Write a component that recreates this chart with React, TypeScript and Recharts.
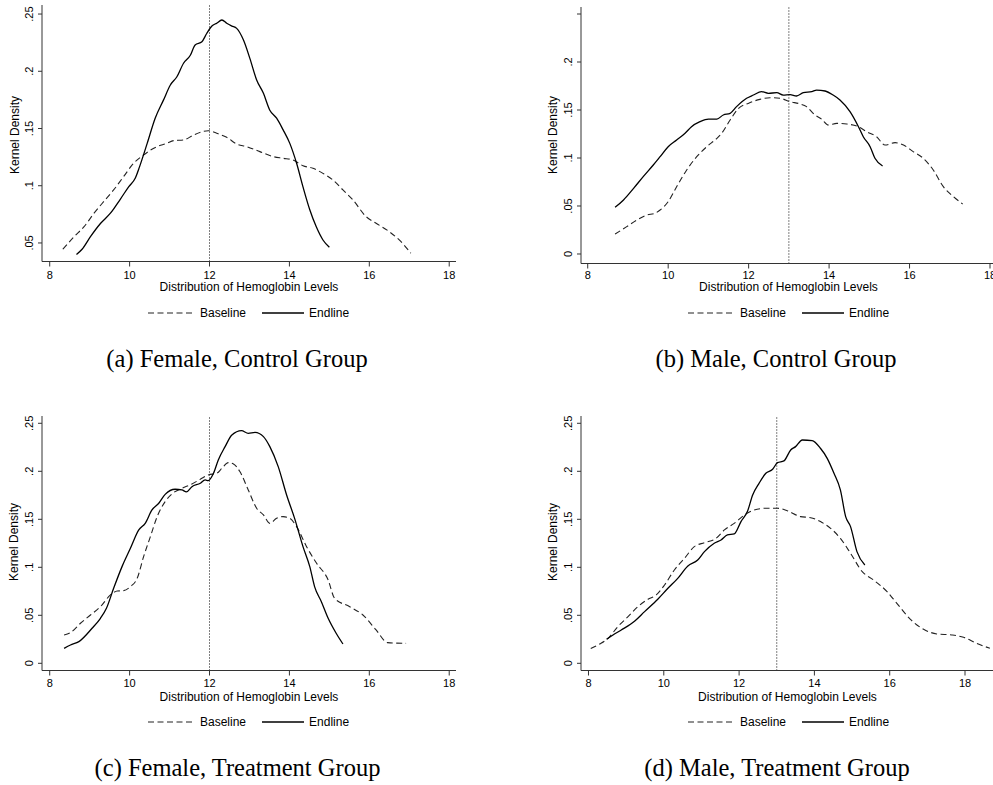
import React from 'react';
import { LineChart, Line, XAxis, YAxis, ReferenceLine, Legend } from 'recharts';

// ---------- data ----------
const xTicks = [8, 10, 12, 14, 16, 18];
const xTickLabels = ['8', '10', '12', '14', '16', '18'];
const yTicksTopLeft = [0.05, 0.1, 0.15, 0.2, 0.25];
const yTickLabelsTopLeft = ['.05', '.1', '.15', '.2', '.25'];
const yTicksFull = [0, 0.05, 0.1, 0.15, 0.2, 0.25];
const yTickLabelsFull = ['0', '.05', '.1', '.15', '.2', '.25'];
const yTickLabelsMaleControl = ['0', '.05', '.1', '.15', '.2', ''];
const seriesNames = ['Baseline', 'Endline'];
const captions = ['(a) Female, Control Group', '(b) Male, Control Group', '(c) Female, Treatment Group', '(d) Male, Treatment Group'];
const xTitle = 'Distribution of Hemoglobin Levels';
const yTitle = 'Kernel Density';
const cutoffFemale = 12;
const cutoffMale = 13;

// (a) Female, Control
const fcBaseX = [8.33, 8.61, 8.86, 9.11, 9.35, 9.6, 9.85, 10.1, 10.35, 10.68, 10.93, 11.1, 11.35, 11.6, 11.81, 11.97, 12.18, 12.43, 12.68, 12.93, 13.26, 13.6, 13.84, 14.09, 14.34, 14.59, 14.84, 15.09, 15.34, 15.59, 15.92, 16.17, 16.5, 16.75, 17.04];
const fcBaseY = [0.0445, 0.0555, 0.0643, 0.076, 0.0861, 0.0963, 0.108, 0.1196, 0.1269, 0.1341, 0.137, 0.1394, 0.14, 0.1443, 0.1472, 0.1481, 0.1458, 0.1423, 0.1365, 0.1341, 0.1298, 0.1254, 0.124, 0.1225, 0.1175, 0.1152, 0.1108, 0.105, 0.0963, 0.0876, 0.073, 0.0672, 0.0599, 0.0526, 0.041];
const fcEndX = [8.67, 8.81, 9.02, 9.27, 9.52, 9.77, 9.98, 10.14, 10.25, 10.44, 10.64, 10.85, 11.02, 11.18, 11.35, 11.52, 11.64, 11.81, 11.93, 12.06, 12.18, 12.31, 12.43, 12.56, 12.68, 12.85, 13.01, 13.18, 13.35, 13.51, 13.68, 13.84, 14.01, 14.18, 14.34, 14.51, 14.67, 14.84, 15.0];
const fcEndY = [0.04, 0.0445, 0.0555, 0.067, 0.076, 0.0884, 0.0992, 0.1065, 0.1167, 0.137, 0.159, 0.175, 0.188, 0.195, 0.207, 0.214, 0.223, 0.2258, 0.233, 0.2395, 0.242, 0.2448, 0.242, 0.2395, 0.2375, 0.2273, 0.2113, 0.1924, 0.1807, 0.166, 0.159, 0.149, 0.137, 0.1196, 0.099, 0.079, 0.0643, 0.0526, 0.0462];

// (b) Male, Control
const mcBaseX = [8.68, 8.97, 9.22, 9.47, 9.67, 9.8, 10.0, 10.21, 10.46, 10.71, 10.96, 11.21, 11.33, 11.54, 11.75, 11.99, 12.28, 12.53, 12.78, 13.03, 13.28, 13.44, 13.65, 13.82, 13.98, 14.19, 14.44, 14.73, 14.93, 15.18, 15.39, 15.64, 15.85, 16.09, 16.34, 16.59, 16.84, 17.09, 17.32];
const mcBaseY = [0.0208, 0.0285, 0.0354, 0.0406, 0.0424, 0.0458, 0.0545, 0.0701, 0.0875, 0.1014, 0.1118, 0.1205, 0.1257, 0.1396, 0.1517, 0.1569, 0.1611, 0.1628, 0.1622, 0.1587, 0.1563, 0.1535, 0.1448, 0.1403, 0.1344, 0.1361, 0.1354, 0.1326, 0.1274, 0.1222, 0.1135, 0.116, 0.1135, 0.1066, 0.0997, 0.0875, 0.0701, 0.0597, 0.0521];
const mcEndX = [8.68, 8.89, 9.14, 9.38, 9.63, 9.8, 10.0, 10.21, 10.42, 10.58, 10.79, 11.0, 11.21, 11.37, 11.54, 11.7, 11.95, 12.12, 12.32, 12.49, 12.7, 12.86, 13.03, 13.19, 13.36, 13.57, 13.69, 13.9, 14.1, 14.27, 14.52, 14.73, 14.85, 15.02, 15.14, 15.33];
const mcEndY = [0.0486, 0.0563, 0.0684, 0.0806, 0.0927, 0.1014, 0.1118, 0.1188, 0.1257, 0.1326, 0.1378, 0.1406, 0.1406, 0.1448, 0.1465, 0.1535, 0.1622, 0.1656, 0.1691, 0.1674, 0.168, 0.1656, 0.166, 0.1646, 0.168, 0.1691, 0.1708, 0.1698, 0.1656, 0.1604, 0.1483, 0.1326, 0.1222, 0.1118, 0.0997, 0.0917];

// (c) Female, Treatment
const ftBaseX = [8.36, 8.52, 8.77, 9.02, 9.27, 9.52, 9.69, 9.85, 10.02, 10.19, 10.35, 10.52, 10.69, 10.89, 11.1, 11.31, 11.56, 11.77, 11.97, 12.18, 12.31, 12.47, 12.6, 12.76, 12.97, 13.18, 13.35, 13.51, 13.68, 13.84, 14.01, 14.18, 14.43, 14.68, 14.97, 15.13, 15.51, 15.84, 16.17, 16.46, 16.92];
const ftBaseY = [0.0295, 0.0319, 0.0417, 0.0503, 0.059, 0.0712, 0.0753, 0.0757, 0.0799, 0.0885, 0.1111, 0.1319, 0.1528, 0.1684, 0.1778, 0.1823, 0.1868, 0.1917, 0.1962, 0.1979, 0.2031, 0.209, 0.2076, 0.1997, 0.1806, 0.1615, 0.1545, 0.1458, 0.151, 0.1528, 0.151, 0.1424, 0.1215, 0.1042, 0.0868, 0.0677, 0.059, 0.0503, 0.0347, 0.0215, 0.0208];
const ftEndX = [8.36, 8.52, 8.73, 9.06, 9.27, 9.42, 9.6, 9.81, 10.02, 10.23, 10.39, 10.56, 10.73, 10.89, 11.14, 11.31, 11.42, 11.56, 11.77, 11.89, 11.97, 12.1, 12.22, 12.39, 12.56, 12.8, 12.97, 13.14, 13.35, 13.51, 13.72, 13.93, 14.13, 14.34, 14.51, 14.63, 14.8, 14.97, 15.17, 15.34];
const ftEndY = [0.0156, 0.0191, 0.0226, 0.0365, 0.0469, 0.0573, 0.0781, 0.1007, 0.1198, 0.1389, 0.1458, 0.1597, 0.1667, 0.176, 0.1813, 0.1806, 0.1785, 0.184, 0.1875, 0.191, 0.1903, 0.1979, 0.2118, 0.2257, 0.2378, 0.2424, 0.2396, 0.2406, 0.2361, 0.2257, 0.2049, 0.1753, 0.151, 0.1215, 0.1007, 0.0799, 0.0642, 0.0469, 0.0313, 0.0201];

// (d) Male, Treatment
const mtBaseX = [8.06, 8.3, 8.52, 8.78, 9.05, 9.31, 9.58, 9.8, 10.02, 10.28, 10.55, 10.81, 11.08, 11.39, 11.61, 11.87, 12.14, 12.4, 12.71, 13.02, 13.28, 13.63, 13.9, 14.16, 14.43, 14.69, 14.96, 15.27, 15.57, 15.93, 16.19, 16.55, 16.9, 17.25, 17.65, 17.96, 18.31, 18.66];
const mtBaseY = [0.0153, 0.0201, 0.026, 0.0382, 0.0486, 0.059, 0.0667, 0.0712, 0.0816, 0.0972, 0.1094, 0.1215, 0.1257, 0.1302, 0.1389, 0.1458, 0.1545, 0.1597, 0.1615, 0.1615, 0.159, 0.1528, 0.1517, 0.1476, 0.1406, 0.1302, 0.1146, 0.0955, 0.0868, 0.0747, 0.0625, 0.0458, 0.0354, 0.0306, 0.0295, 0.0271, 0.0208, 0.0156];
const mtEndX = [8.48, 8.65, 8.87, 9.23, 9.49, 9.84, 10.11, 10.37, 10.64, 10.9, 11.08, 11.34, 11.52, 11.69, 11.87, 12.05, 12.22, 12.36, 12.53, 12.71, 12.89, 13.02, 13.19, 13.37, 13.5, 13.68, 13.94, 14.16, 14.34, 14.52, 14.69, 14.83, 14.96, 15.13, 15.34];
const mtEndY = [0.025, 0.0295, 0.0347, 0.0441, 0.0538, 0.0667, 0.0781, 0.0885, 0.1014, 0.1076, 0.1163, 0.125, 0.1285, 0.1337, 0.1347, 0.1476, 0.158, 0.1753, 0.1875, 0.1979, 0.2021, 0.209, 0.2108, 0.2222, 0.2257, 0.2326, 0.2319, 0.224, 0.2135, 0.1979, 0.1806, 0.1528, 0.1424, 0.1163, 0.1024];

// ---------- helpers ----------
const zip = (xs: number[], ys: number[]) => xs.map((x, i) => ({ x, y: ys[i] }));
const SANS = "'Liberation Sans', Arial, Helvetica, sans-serif";
const SERIF = "'Liberation Serif', 'Times New Roman', serif";
const AXIS = '#333';

type PanelCfg = {
  left: number; top: number; width: number; height: number;
  plot: { left: number; right: number; top: number; bottom: number };
  xDomain: [number, number]; yDomain: [number, number];
  yTicks: number[]; yLabels: string[]; refX: number;
  base: { x: number; y: number }[]; end: { x: number; y: number }[];
  tickMargin: number; titleY: number; legendY: number; legendX: number; yTitleX: number; yTitleY: number;
};

const makeYTick = (ticks: number[], labels: string[]) => (props: any) => {
  const { x, y, payload } = props;
  const i = ticks.findIndex((t) => Math.abs(t - payload.value) < 1e-9);
  const label = i >= 0 ? labels[i] : '';
  return (
    <text x={x} y={y} transform={`rotate(-90 ${x} ${y})`} textAnchor="middle" dy="0.36em" fontSize={11} fontFamily={SANS} fill="#000">
      {label}
    </text>
  );
};

const LegendContent = () => (
  <div style={{ display: 'flex', alignItems: 'center', height: 14, fontFamily: SANS, fontSize: 12, color: '#000', whiteSpace: 'nowrap' }}>
    <svg width={44} height={14} style={{ display: 'block' }}>
      <line x1={0} x2={44} y1={7} y2={7} stroke="#222" strokeWidth={1.1} strokeDasharray="6 3.5" />
    </svg>
    <span style={{ marginLeft: 8 }}>{seriesNames[0]}</span>
    <svg width={42} height={14} style={{ display: 'block', marginLeft: 16 }}>
      <line x1={0} x2={42} y1={7} y2={7} stroke="#000" strokeWidth={1.3} />
    </svg>
    <span style={{ marginLeft: 5 }}>{seriesNames[1]}</span>
  </div>
);

function Panel({ cfg }: { cfg: PanelCfg }) {
  const { left, top, width, height, plot } = cfg;
  const margin = { top: plot.top - top, right: left + width - plot.right, left: 0, bottom: 0 };
  const yAxisWidth = plot.left - left;
  const xAxisHeight = top + height - plot.bottom;
  const cx = (plot.left + plot.right) / 2 - left;
  return (
    <div style={{ position: 'absolute', left, top }}>
      <LineChart width={width} height={height} margin={margin}>
        <XAxis
          type="number"
          dataKey="x"
          domain={cfg.xDomain}
          allowDataOverflow
          ticks={xTicks}
          interval={0}
          tickFormatter={(v: number) => xTickLabels[xTicks.indexOf(v)] ?? String(v)}
          height={xAxisHeight}
          tickSize={5}
          tickMargin={cfg.tickMargin}
          stroke={AXIS}
          tick={{ fontSize: 11, fill: '#000', fontFamily: SANS }}
          label={() => (
            <text x={cx} y={cfg.titleY - top + 4} textAnchor="middle" fontSize={12} fontFamily={SANS} fill="#000">
              {xTitle}
            </text>
          )}
        />
        <YAxis
          type="number"
          dataKey="y"
          domain={cfg.yDomain}
          allowDataOverflow
          ticks={cfg.yTicks}
          interval={0}
          width={yAxisWidth}
          tickSize={4}
          tickMargin={9}
          stroke={AXIS}
          tick={makeYTick(cfg.yTicks, cfg.yLabels)}
          label={() => {
            const tx = cfg.yTitleX - left;
            const ty = cfg.yTitleY - top;
            return (
              <text x={tx} y={ty} transform={`rotate(-90 ${tx} ${ty})`} textAnchor="middle" dy="0.36em" fontSize={12} fontFamily={SANS} fill="#000">
                {yTitle}
              </text>
            );
          }}
        />
        <ReferenceLine x={cfg.refX} stroke="#000" strokeWidth={1} strokeDasharray="1 2" />
        <Line data={cfg.base} dataKey="y" name={seriesNames[0]} type="monotone" stroke="#222" strokeWidth={1.1} strokeDasharray="6 3.5" dot={false} activeDot={false} isAnimationActive={false} />
        <Line data={cfg.end} dataKey="y" name={seriesNames[1]} type="monotone" stroke="#000" strokeWidth={1.3} dot={false} activeDot={false} isAnimationActive={false} />
        <Legend
          layout="horizontal"
          verticalAlign="middle"
          align="center"
          wrapperStyle={{ top: cfg.legendY - top - 7, left: cfg.legendX - left, width: 230, height: 14 }}
          content={LegendContent}
        />
      </LineChart>
    </div>
  );
}

const panels: PanelCfg[] = [
  {
    left: 0, top: 0, width: 475, height: 330,
    plot: { left: 42, right: 456, top: 5, bottom: 261.5 },
    xDomain: [7.807, 18.17], yDomain: [0.0338, 0.2579],
    yTicks: yTicksTopLeft, yLabels: yTickLabelsTopLeft, refX: cutoffFemale,
    base: zip(fcBaseX, fcBaseY), end: zip(fcEndX, fcEndY),
    tickMargin: 4.5, titleY: 287, legendY: 312.7, legendX: 148, yTitleX: 15, yTitleY: 135,
  },
  {
    left: 500, top: 0, width: 496, height: 330,
    plot: { left: 581, right: 996, top: 7, bottom: 263.5 },
    xDomain: [7.833, 18.149], yDomain: [-0.0099, 0.2573],
    yTicks: yTicksFull, yLabels: yTickLabelsMaleControl, refX: cutoffMale,
    base: zip(mcBaseX, mcBaseY), end: zip(mcEndX, mcEndY),
    tickMargin: 2.5, titleY: 287, legendY: 312.7, legendX: 688, yTitleX: 553, yTitleY: 135,
  },
  {
    left: 0, top: 400, width: 475, height: 385,
    plot: { left: 42, right: 456, top: 416, bottom: 670.5 },
    xDomain: [7.807, 18.17], yDomain: [-0.0075, 0.2576],
    yTicks: yTicksFull, yLabels: yTickLabelsFull, refX: cutoffFemale,
    base: zip(ftBaseX, ftBaseY), end: zip(ftEndX, ftEndY),
    tickMargin: 3.9, titleY: 696.7, legendY: 722, legendX: 148, yTitleX: 14, yTitleY: 542,
  },
  {
    left: 500, top: 400, width: 494, height: 385,
    plot: { left: 581, right: 994, top: 416, bottom: 670.5 },
    xDomain: [7.801, 18.77], yDomain: [-0.0075, 0.2576],
    yTicks: yTicksFull, yLabels: yTickLabelsFull, refX: cutoffMale,
    base: zip(mtBaseX, mtBaseY), end: zip(mtEndX, mtEndY),
    tickMargin: 3.9, titleY: 696.7, legendY: 722, legendX: 688, yTitleX: 553, yTitleY: 542,
  },
];

const captionPos = [
  { x: 237, y: 367 },
  { x: 776, y: 367 },
  { x: 237.5, y: 776 },
  { x: 777, y: 776 },
];

export default function App() {
  return (
    <div style={{ position: 'absolute', left: 0, top: 0, width: 993, height: 785, overflow: 'hidden', background: '#fff' }}>
      {panels.map((p, i) => (
        <Panel key={i} cfg={p} />
      ))}
      <svg width={993} height={785} style={{ position: 'absolute', left: 0, top: 0, pointerEvents: 'none' }}>
        {captions.map((c, i) => (
          <text key={i} x={captionPos[i].x} y={captionPos[i].y} textAnchor="middle" fontSize={24.5} fontFamily={SERIF} fill="#000">
            {c}
          </text>
        ))}
      </svg>
    </div>
  );
}
